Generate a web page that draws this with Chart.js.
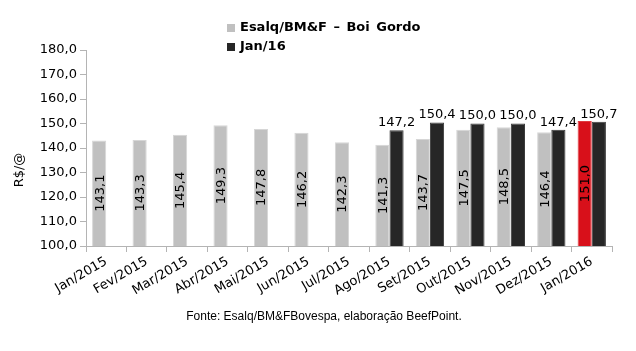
<!DOCTYPE html>
<html>
<head>
<meta charset="utf-8">
<script src="https://cdn.jsdelivr.net/npm/chart.js@4/dist/chart.umd.min.js"></script>
<style>
  html, body { margin: 0; padding: 0; background: #fff; }
  #wrap { width: 636px; height: 351px; position: relative; }
</style>
</head>
<body>
<div id="wrap"><canvas id="barchart"></canvas></div>
<script>
var meses = ["Jan/2015", "Fev/2015", "Mar/2015", "Abr/2015", "Mai/2015", "Jun/2015", "Jul/2015",
  "Ago/2015", "Set/2015", "Out/2015", "Nov/2015", "Dez/2015", "Jan/2016"];
var boiGordo = [143.1, 143.3, 145.4, 149.3, 147.8, 146.2, 142.3, 141.3, 143.7, 147.5, 148.5, 146.4, 151.0];
var jan16 = [null, null, null, null, null, null, null, 147.2, 150.4, 150.0, 150.0, 147.4, 150.7];
var serieNomes = ["Esalq/BM&F \u2013 Boi Gordo", "Jan/16"];
var yTicks = [100, 110, 120, 130, 140, 150, 160, 170, 180];
var yTitulo = "R$/@";
var fonte = "Fonte: Esalq/BM&FBovespa, elaboração BeefPoint.";

var cinza = "#c0c0c0", preto = "#262626", vermelho = "#d8101a";
var fam = "'DejaVu Sans', Verdana, sans-serif";

function br(v) { return v.toFixed(1).replace(".", ","); }

// rotulos, legenda, titulo do eixo e fonte desenhados a mao
var extras = {
  id: "extras",
  afterDatasetsDraw(chart) {
    let ctx = chart.ctx;
    let fundo = chart.scales.y.getPixelForValue(100);
    ctx.save();
    ctx.font = "13px " + fam;
    ctx.fillStyle = "#000";
    // cinza: texto vertical dentro da barra
    chart.getDatasetMeta(0).data.forEach(function (bar, i) {
      let mid = (bar.y + fundo) / 2;
      ctx.save();
      ctx.translate(bar.x + 1, mid);
      ctx.rotate(-Math.PI / 2);
      ctx.textAlign = "center";
      ctx.textBaseline = "middle";
      ctx.fillText(br(boiGordo[i]), 0, 0);
      ctx.restore();
    });
    // preto: texto acima
    chart.getDatasetMeta(1).data.forEach(function (bar, i) {
      if (jan16[i] == null) return;
      ctx.textAlign = "center";
      ctx.textBaseline = "bottom";
      ctx.fillText(br(jan16[i]), bar.x, bar.y - 1);
    });
    // titulo do eixo y
    ctx.save();
    ctx.translate(20, 170);
    ctx.rotate(-Math.PI / 2);
    ctx.textAlign = "center";
    ctx.textBaseline = "middle";
    ctx.fillText(yTitulo, 0, 0);
    ctx.restore();
    // legenda
    ctx.font = "bold 13px " + fam;
    ctx.textAlign = "left";
    ctx.textBaseline = "middle";
    let cores = [cinza, preto];
    serieNomes.forEach(function (nome, k) {
      let y = 28 + k * 19;
      ctx.fillStyle = cores[k];
      ctx.fillRect(227, y - 4, 8, 8);
      ctx.fillStyle = "#000";
      ctx.fillText(nome.replace(/ /g, "\u2002"), 240, y);
    });
    // fonte
    ctx.font = "12px 'Liberation Sans', Arial, sans-serif";
    ctx.textAlign = "center";
    ctx.fillText(fonte, 324, 317);
    ctx.restore();
  }
};

let ctx = document.getElementById("barchart").getContext("2d");

let chart = new Chart(ctx, {
  type: "bar",
  data: {
    labels: meses,
    datasets: [
      {
        label: serieNomes[0],
        data: boiGordo,
        backgroundColor: boiGordo.map((v, i) => i == meses.length - 1 ? vermelho : cinza),
        borderColor: boiGordo.map((v, i) => i == meses.length - 1 ? "#e03a40" : "#d6d6d6"),
        borderWidth: 1,
        categoryPercentage: 0.7,
        barPercentage: 1.0,
      },
      {
        label: serieNomes[1],
        data: jan16,
        backgroundColor: preto,
        borderColor: "#3c3c3c",
        borderWidth: 1,
        categoryPercentage: 0.7,
        barPercentage: 1.0,
      },
    ],
  },
  options: {
    responsive: true,
    maintainAspectRatio: false,
    animation: false,
    layout: { padding: { top: 50, right: 24, left: 0, bottom: 0 } },
    plugins: {
      legend: { display: false },
      tooltip: { enabled: false },
    },
    scales: {
      x: {
        grid: { display: true, drawOnChartArea: false, color: "#b4b4b4", tickLength: 6, offset: true },
        border: { color: "#b4b4b4" },
        ticks: { color: "#000", font: { family: fam, size: 13 }, minRotation: 30, maxRotation: 30, padding: 2 },
        afterFit(scale) { scale.height = 105; },
      },
      y: {
        min: 100,
        max: 180,
        grid: { display: true, drawOnChartArea: false, color: "#b4b4b4", tickLength: 6 },
        border: { color: "#b4b4b4" },
        afterBuildTicks(scale) { scale.ticks = yTicks.map(v => ({ value: v })); },
        ticks: { color: "#000", font: { family: fam, size: 13 }, padding: 3, callback: v => br(v) },
        afterFit(scale) { scale.width = 86; },
      },
    },
  },
  plugins: [extras],
});
</script>
</body>
</html>
